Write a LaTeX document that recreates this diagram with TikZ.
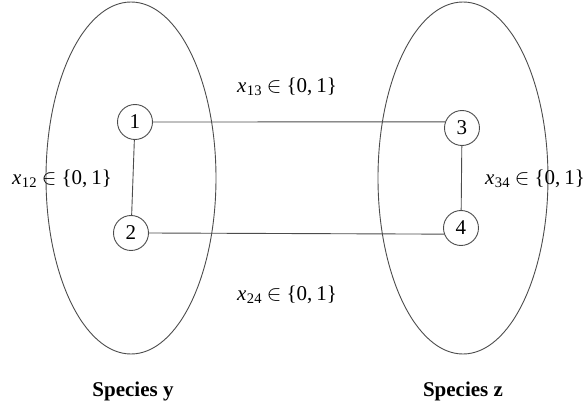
\documentclass[tikz,border=0pt]{standalone}
\usepackage[no-math]{fontspec}
\setmainfont{Liberation Serif}
\usetikzlibrary{shapes.geometric}
\newcommand{\xlab}[1]{\textit{x}\kern0.3pt\raisebox{-0.25ex}{\fontsize{7.3}{8}\selectfont #1}\kern2.6pt$\in$\kern2.6pt\{0,\kern2pt1\}}
\tikzset{
  grp/.style={draw=black!70, line width=0.45pt, ellipse, inner sep=0pt, minimum width=85pt, minimum height=176pt},
  vtx/.style={draw=black!70, line width=0.45pt, circle, inner sep=0pt, minimum size=17.5pt, font=\fontsize{10.5}{12}\selectfont},
  lnk/.style={draw=black!70, line width=0.45pt},
  lbl/.style={inner sep=0pt, font=\fontsize{10.5}{12}\selectfont},
  ttl/.style={inner sep=0pt, font=\fontsize{10.5}{12}\selectfont\bfseries}
}
\begin{document}
\begin{tikzpicture}[x=0.5pt, y=-0.5pt]
\useasboundingbox (0,0) rectangle (586,412);
\node[grp] (ey) at (131,178) {};
\node[grp] (ez) at (463,178) {};
\node[vtx] (n1) at (135,122) {1};
\node[vtx] (n2) at (131,233) {2};
\node[vtx] (n3) at (462,128) {3};
\node[vtx] (n4) at (461,228) {4};
\draw[lnk] (n1) -- (n2);
\draw[lnk] (n3) -- (n4);
\draw[lnk] (n1.east) -- (n3.160);
\draw[lnk] (n2.east) -- (n4.200);
\node[lbl] (l13) at (287,87) {\xlab{13}};
\node[lbl] (l24) at (287,295) {\xlab{24}};
\node[lbl] (l12) at (62,179) {\xlab{12}};
\node[lbl] (l34) at (535,179) {\xlab{34}};
\node[ttl] (sy) at (133,391) {Species y};
\node[ttl] (sz) at (463,391) {Species z};
\end{tikzpicture}
\end{document}
